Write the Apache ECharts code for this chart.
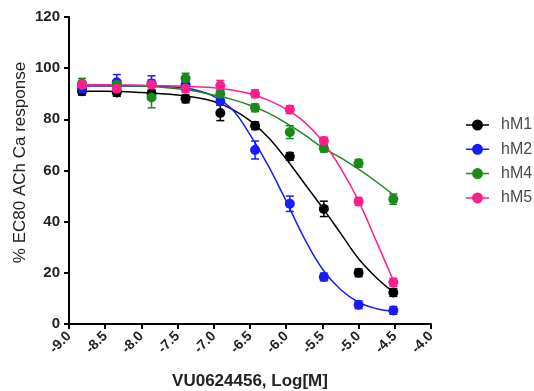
<!DOCTYPE html>
<html><head><meta charset="utf-8">
<script src="https://cdn.jsdelivr.net/npm/echarts@6/dist/echarts.min.js"></script>
<style>html,body{margin:0;padding:0;background:#fff}#c{width:534px;height:391px}</style>
</head><body><div id="c"></div>
<script>
// Concentrations (log M)
var doses = [-8.82, -8.34, -7.86, -7.39, -6.91, -6.43, -5.95, -5.48, -5.00, -4.52];
var seriesNames = ['hM1', 'hM2', 'hM4', 'hM5'];
var colors = ['#000000', '#1a1aff', '#1a8a1a', '#ff1f8a'];
// Mean responses (% EC80 ACh Ca response)
var hM1 = [91, 90.5, 90, 88, 82.5, 77.5, 65.5, 45, 20, 12.3];
var hM2 = [92, 94.5, 94, 93.5, 87, 68, 47, 18.4, 7.5, 5.3];
var hM4 = [94, 93.5, 88.5, 96, 90, 84.5, 75, 68.7, 62.8, 48.8];
var hM5 = [93.5, 92, 93.5, 92, 93.2, 90, 83.8, 71.5, 47.9, 16.3];
// Error bars (SEM)
var hM1Err = [1.5, 1.5, 1.5, 1.5, 3, 1.5, 1.5, 3, 1.5, 1.5];
var hM2Err = [2, 3, 3, 1.5, 1.5, 3.5, 3, 1.5, 1.5, 1.5];
var hM4Err = [2, 1.5, 4, 2, 1.5, 1.5, 2.5, 1.5, 1.5, 2];
var hM5Err = [1.5, 1.5, 2, 1.5, 2, 1.5, 1.5, 1.5, 1.5, 1.5];
// Fitted curves
var curveX = [-8.82, -8.5, -8.0, -7.5, -7.25, -7.0, -6.75, -6.5, -6.25, -6.0, -5.75, -5.5, -5.25, -5.0, -4.75, -4.52];
var hM1Fit = [91, 91, 90.5, 89.5, 88.5, 87, 84, 79.5, 73, 64.5, 55, 45.5, 35.5, 25.5, 18, 12.5];
var hM2Fit = [93, 93, 93, 92.5, 91.5, 89, 84, 74, 62, 48, 33.5, 21.5, 13.5, 8.5, 6, 5];
var hM4Fit = [93.5, 93.3, 93, 92, 91, 89.5, 87.8, 85.5, 82.5, 78.5, 74, 69, 65, 60.5, 55.5, 50.5];
var hM5Fit = [93.5, 93.5, 93.3, 93, 92.7, 92.3, 91.5, 90, 87.5, 84, 79, 71.5, 61, 48, 32, 17];
var xTicks = [-9.0, -8.5, -8.0, -7.5, -7.0, -6.5, -6.0, -5.5, -5.0, -4.5, -4.0];
var yTicks = [0, 20, 40, 60, 80, 100, 120];

var means = [hM1, hM2, hM4, hM5];
var errs = [hM1Err, hM2Err, hM4Err, hM5Err];
var fits = [hM1Fit, hM2Fit, hM4Fit, hM5Fit];
var FONT = 'Liberation Sans, Arial, sans-serif';
var legendIcon = 'path://M0,5.25 L23,5.25 L23,6.75 L0,6.75 Z M6,6 A5.5,5.5 0 1 1 17,6 A5.5,5.5 0 1 1 6,6 Z';

function pairs(xs, ys) { return xs.map(function (x, i) { return [x, ys[i]]; }); }

var series = [];
var order = [0, 2, 1, 3];
order.forEach(function (k) {
  series.push({
    name: seriesNames[k], type: 'line', smooth: 0.4, showSymbol: false,
    symbol: 'circle', symbolSize: 10,
    data: pairs(curveX, fits[k]),
    lineStyle: { color: colors[k], width: 1.5 }, itemStyle: { color: colors[k] },
    z: 2 + k, silent: true
  });
});
order.forEach(function (k) {
  series.push({
    name: seriesNames[k] + ' err', type: 'custom',
    data: doses.map(function (x, i) { return [x, means[k][i] - errs[k][i], means[k][i] + errs[k][i]]; }),
    renderItem: function (params, api) {
      var lo = api.coord([api.value(0), api.value(1)]);
      var hi = api.coord([api.value(0), api.value(2)]);
      var w = 4;
      var st = { stroke: colors[k], lineWidth: 1.5 };
      return { type: 'group', children: [
        { type: 'line', shape: { x1: lo[0], y1: lo[1], x2: hi[0], y2: hi[1] }, style: st },
        { type: 'line', shape: { x1: lo[0] - w, y1: lo[1], x2: lo[0] + w, y2: lo[1] }, style: st },
        { type: 'line', shape: { x1: hi[0] - w, y1: hi[1], x2: hi[0] + w, y2: hi[1] }, style: st }
      ] };
    },
    encode: { x: 0, y: [1, 2] }, z: 6 + k, silent: true
  });
  series.push({
    name: seriesNames[k], type: 'scatter', symbol: 'circle', symbolSize: 10,
    data: pairs(doses, means[k]), itemStyle: { color: colors[k], opacity: 1 },
    z: 10 + k, silent: true
  });
});

var chart = echarts.init(document.getElementById('c'), null, { renderer: 'canvas' });
chart.setOption({
  animation: false,
  backgroundColor: '#ffffff',
  grid: { left: 69, right: 103, top: 17, bottom: 67, containLabel: false, outerBoundsMode: 'none' },
  legend: {
    data: seriesNames.map(function (n) { return { name: n, icon: legendIcon }; }),
    orient: 'vertical', left: 466, top: 117, padding: 0, itemGap: 8.3, itemWidth: 23, itemHeight: 11,
    textStyle: { color: '#4a4a4a', fontSize: 16, lineHeight: 16, fontFamily: FONT, padding: [0, 0, 0, 7] }
  },
  xAxis: {
    type: 'value', min: -9, max: -4, interval: 0.5,
    name: 'VU0624456, Log[M]', nameLocation: 'middle', nameGap: 49,
    nameTextStyle: { color: '#222', fontSize: 17, fontWeight: 'bold', fontFamily: FONT },
    axisLine: { onZero: false, lineStyle: { color: '#000', width: 2 } },
    axisTick: { show: true, length: 5, lineStyle: { color: '#000', width: 2 } },
    splitLine: { show: false },
    axisLabel: {
      rotate: 45, margin: 10, color: '#222', fontSize: 14, fontWeight: 'bold',
      fontFamily: FONT,
      formatter: function (v) { return v.toFixed(1); }
    }
  },
  yAxis: {
    type: 'value', min: 0, max: 120, interval: 20,
    name: '% EC80 ACh Ca response', nameLocation: 'middle', nameGap: 40, nameRotate: 90,
    nameMoveOverlap: false,
    nameTextStyle: { color: '#222', fontSize: 17, fontFamily: FONT, padding: [0, 0, 0, 16] },
    axisLine: { show: true, lineStyle: { color: '#000', width: 2 } },
    axisTick: { show: true, length: 5, lineStyle: { color: '#000', width: 2 } },
    splitLine: { show: false },
    axisLabel: { margin: 9, color: '#222', fontSize: 15, fontWeight: 'bold', fontFamily: FONT }
  },
  series: series
});
</script></body></html>
